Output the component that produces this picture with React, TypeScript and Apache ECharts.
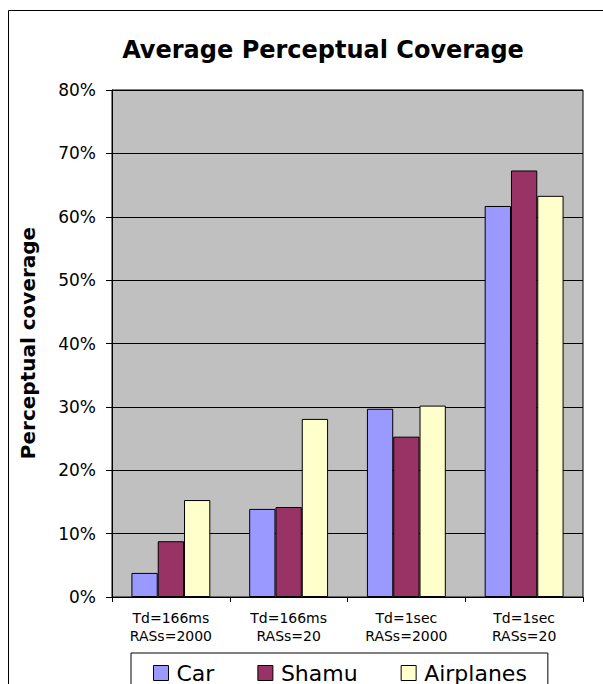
import React, { useEffect, useRef } from "react";
import * as echarts from "echarts";

const categories = [
  "Td=166ms\nRASs=2000",
  "Td=166ms\nRASs=20",
  "Td=1sec\nRASs=2000",
  "Td=1sec\nRASs=20",
];
const seriesNames = ["Car", "Shamu", "Airplanes"];
const carValues = [3.8, 13.9, 29.7, 61.7];
const shamuValues = [8.8, 14.2, 25.3, 67.3];
const airplaneValues = [15.3, 28.1, 30.2, 63.3];
const seriesColors = ["#9999FF", "#993366", "#FFFFCC"];
const yTicks = { min: 0, max: 80, interval: 10 };

const FONT = "'DejaVu Sans', sans-serif";

export default function App() {
  const ref = useRef<HTMLDivElement>(null);

  useEffect(() => {
    if (!ref.current) return;
    const chart = echarts.init(ref.current, null, { renderer: "svg" });
    const values = [carValues, shamuValues, airplaneValues];

    chart.setOption({
      animation: false,
      backgroundColor: "#ffffff",
      textStyle: { fontFamily: FONT },
      graphic: [
        {
          type: "rect",
          z: -10,
          silent: true,
          shape: { x: 8.5, y: 10.5, width: 700, height: 700 },
          style: { fill: "none", stroke: "#000", lineWidth: 1 },
        },
        {
          type: "text",
          x: 323,
          y: 50,
          style: {
            text: "Average Perceptual Coverage",
            font: `bold 24px ${FONT}`,
            fill: "#000",
            textAlign: "center",
            textVerticalAlign: "middle",
          },
        },
        {
          type: "text",
          x: 28,
          y: 343,
          rotation: Math.PI / 2,
          style: {
            text: "Perceptual coverage",
            font: `bold 20px ${FONT}`,
            fill: "#000",
            textAlign: "center",
            textVerticalAlign: "middle",
          },
        },
      ],
      grid: {
        left: 112,
        top: 90,
        right: 20,
        bottom: 87,
        show: true,
        backgroundColor: "#C0C0C0",
        borderColor: "#000",
        borderWidth: 1,
      },
      legend: {
        left: 131,
        top: 653,
        orient: "horizontal",
        padding: [9, 21, 10, 22],
        backgroundColor: "#ffffff",
        borderColor: "#000",
        borderWidth: 1,
        borderRadius: 0,
        itemWidth: 15,
        itemHeight: 15,
        itemGap: 43,
        icon: "rect",
        itemStyle: { borderColor: "#000", borderWidth: 1 },
        textStyle: {
          fontFamily: FONT,
          fontSize: 22,
          lineHeight: 18,
          color: "#000",
          padding: [0, 0, 0, 3],
        },
        data: seriesNames,
      },
      xAxis: {
        type: "category",
        data: categories,
        axisLine: { show: true, lineStyle: { color: "#000", width: 1 } },
        axisTick: { show: true, alignWithLabel: false, length: 5, lineStyle: { color: "#000" } },
        axisLabel: {
          fontFamily: FONT,
          fontSize: 14,
          lineHeight: 18,
          color: "#000",
          margin: 12,
          interval: 0,
        },
        splitLine: { show: false },
      },
      yAxis: {
        type: "value",
        min: yTicks.min,
        max: yTicks.max,
        interval: yTicks.interval,
        axisLine: { show: true, lineStyle: { color: "#000", width: 1 } },
        axisTick: { show: true, inside: false, length: 6, lineStyle: { color: "#000" } },
        axisLabel: {
          fontFamily: FONT,
          fontSize: 17,
          color: "#000",
          margin: 16,
          formatter: "{value}%",
        },
        splitLine: { show: true, lineStyle: { color: "#000", width: 1 } },
      },
      series: seriesNames.map((name, i) => ({
        name,
        type: "bar",
        data: values[i],
        barGap: "0%",
        barCategoryGap: "33%",
        itemStyle: { color: seriesColors[i], borderColor: "#000", borderWidth: 1 },
      })),
    });

    return () => chart.dispose();
  }, []);

  return (
    <div
      ref={ref}
      style={{ position: "absolute", left: 0, top: 0, width: 603, height: 684 }}
    />
  );
}
